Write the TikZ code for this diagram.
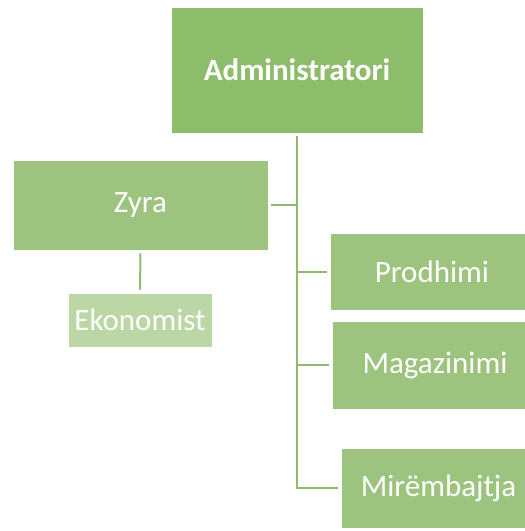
\documentclass[tikz,border=0pt]{standalone}
\usepackage{fontspec}
\setmainfont{Carlito}
\definecolor{adminfill}{RGB}{141,188,107}
\definecolor{unitfill}{RGB}{157,196,127}
\definecolor{subfill}{RGB}{186,215,165}
\definecolor{linecol}{RGB}{141,188,108}

\begin{document}
\begin{tikzpicture}[x=1pt,y=-1pt,
  box/.style={fill=#1,draw=white,line width=0.6pt,text=white,inner sep=0pt,
    font=\fontsize{31}{36}\selectfont},
  link/.style={draw=linecol,line width=2pt}]
\clip (0,0) rectangle (525,531);
\node [box=adminfill,minimum width=252pt,minimum height=126pt,font=\fontsize{31}{36}\selectfont\bfseries] (admin) at (297,70) {Administratori};
\node [box=unitfill,minimum width=255pt,minimum height=90pt] (zyra) at (140.5,205) {Zyra};
\node [box=subfill,minimum width=144pt,minimum height=54pt] (ekon) at (140,320) {Ekonomist};
\node [box=unitfill,minimum width=204pt,minimum height=77pt] (prod) at (432,271.5) {Prodhimi};
\node [box=unitfill,minimum width=206pt,minimum height=88pt] (maga) at (435,365) {Magazinimi};
\node [box=unitfill,minimum width=195pt,minimum height=80pt] (mire) at (438.5,488) {Mirëmbajtja};
\draw [link,shorten <=3pt,shorten >=3pt] (admin.south) |- (mire.west);
\draw [link,shorten <=3pt] (zyra.east) -- (zyra.east -| admin.south);
\draw [link,shorten <=3pt,shorten >=3pt] (zyra.south) -- (ekon.north);
\draw [link,shorten <=3pt] (prod.west) -- (prod.west -| admin.south);
\draw [link,shorten <=3pt] (maga.west) -- (maga.west -| admin.south);
\end{tikzpicture}
\end{document}
